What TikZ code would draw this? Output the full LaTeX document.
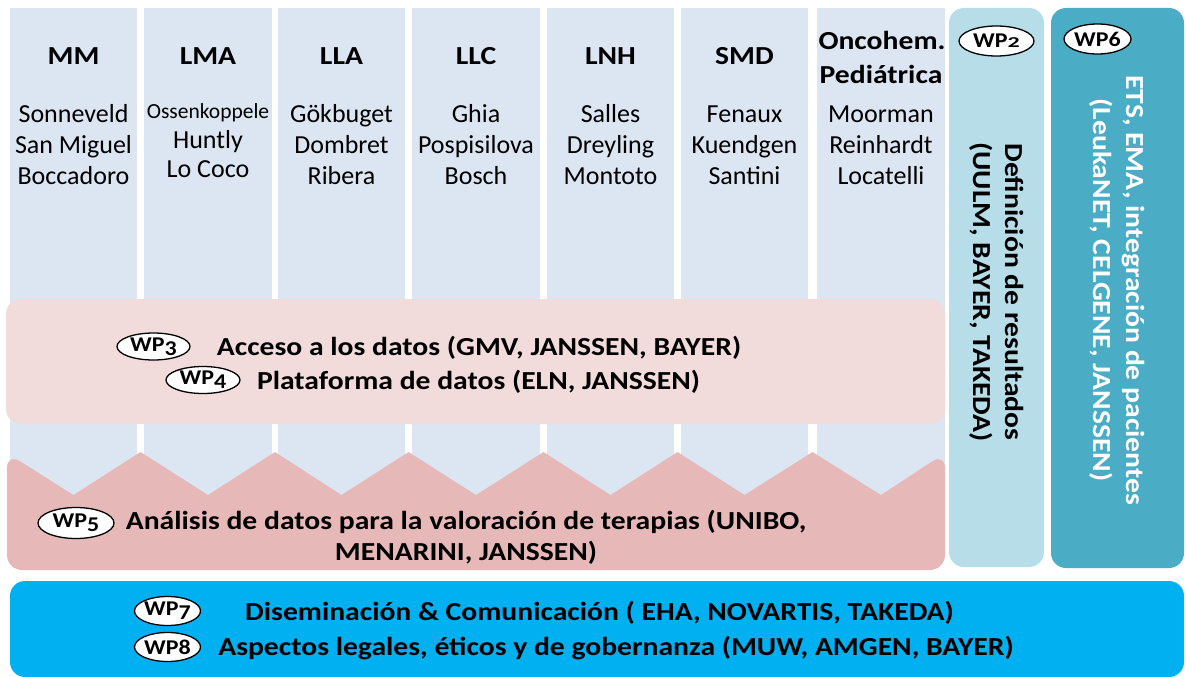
\documentclass[tikz,border=0pt]{standalone}
\usepackage{fontspec}
\usepackage{graphicx}
\setmainfont{Carlito}[BoldFeatures={FakeStretch=1.14}]
\newcommand{\osd}[1]{\raisebox{-0.2em}{#1}}
\newcommand{\ostwo}{\scalebox{1}[0.72]{2}}
\definecolor{colblue}{HTML}{DCE6F2}
\definecolor{pinklight}{HTML}{F2DCDB}
\definecolor{pinkdark}{HTML}{E6B9B8}
\definecolor{wptwo}{HTML}{B7DEE8}
\definecolor{wpsix}{HTML}{4BACC6}
\definecolor{bottomblue}{HTML}{00B0F0}
\usetikzlibrary{shapes.geometric}
\tikzset{
  wpell/.style={ellipse, draw=black, line width=1.3pt, fill=white, inner sep=0pt,
     font=\bfseries\fontsize{21}{21}\selectfont},
  hdtxt/.style={font=\bfseries\fontsize{26}{26}\selectfont, anchor=base},
  nmtxt/.style={font=\fontsize{26}{26}\selectfont, anchor=base},
  btxt/.style={font=\bfseries\fontsize{26}{26}\selectfont, anchor=base},
}
\begin{document}
\begin{tikzpicture}[x=1pt,y=-1pt]
\useasboundingbox (0,0) rectangle (1186,677);
% columns
\foreach \l/\r in {10/137,144/272,278/405,412/540,547/674,681/808,817/945}{
  \fill[colblue] (\l,8) rectangle (\r,510);
}
% headers
\node[hdtxt] (hMM) at (73.5,65) {MM};
\node[hdtxt] (hLMA) at (208,65) {LMA};
\node[hdtxt] (hLLA) at (341.5,65) {LLA};
\node[hdtxt] (hLLC) at (476,65) {LLC};
\node[hdtxt] (hLNH) at (610.5,65) {LNH};
\node[hdtxt] (hSMD) at (744.5,65) {SMD};
\node[hdtxt] (hOnc1) at (882,50) {Oncohem.};
\node[hdtxt] (hOnc2) at (881,83) {Pediátrica};
% names
\node[nmtxt] (n11) at (73.5,122) {Sonneveld};
\node[nmtxt] (n12) at (73.5,153) {San Miguel};
\node[nmtxt] (n13) at (73.5,184) {Boccadoro};
\node[nmtxt, font=\fontsize{21.5}{21.5}\selectfont] (n21) at (208,118) {Ossenkoppele};
\node[nmtxt] (n22) at (208,148) {Huntly};
\node[nmtxt] (n23) at (208,177) {Lo Coco};
\node[nmtxt] (n31) at (341.5,122) {Gökbuget};
\node[nmtxt] (n32) at (341.5,153) {Dombret};
\node[nmtxt] (n33) at (341.5,184) {Ribera};
\node[nmtxt] (n41) at (476,122) {Ghia};
\node[nmtxt] (n42) at (476,153) {Pospisilova};
\node[nmtxt] (n43) at (476,184) {Bosch};
\node[nmtxt] (n51) at (610.5,122) {Salles};
\node[nmtxt] (n52) at (610.5,153) {Dreyling};
\node[nmtxt] (n53) at (610.5,184) {Montoto};
\node[nmtxt] (n61) at (744.5,122) {Fenaux};
\node[nmtxt] (n62) at (744.5,153) {Kuendgen};
\node[nmtxt] (n63) at (744.5,184) {Santini};
\node[nmtxt] (n71) at (881,122) {Moorman};
\node[nmtxt] (n72) at (881,153) {Reinhardt};
\node[nmtxt] (n73) at (881,184) {Locatelli};
% WP3/WP4 box
\fill[pinklight, rounded corners=15pt] (6,299) rectangle (945,424);
\node[wpell, minimum width=73pt, minimum height=27pt] (wp3) at (153.5,346.5) {WP\osd{3}};
\node[btxt] (t3) at (479,355) {Acceso a los datos (GMV, JANSSEN, BAYER)};
\node[wpell, minimum width=74pt, minimum height=27pt] (wp4) at (203,380) {WP\osd{4}};
\node[btxt] (t4) at (478.5,389) {Plataforma de datos (ELN, JANSSEN)};
% WP5 shape
\fill[pinkdark] (7,520) [rounded corners=15pt] -- (7,453) [sharp corners] -- (73.5,495) -- (140.5,452) -- (208,495) -- (275,452) -- (341.5,495) -- (408.5,452) -- (476,495) -- (543.5,452) -- (610.5,495) -- (677.5,452) -- (744.5,495) -- (812.5,452) -- (881,495) [rounded corners=15pt] -- (945,453) -- (945,570) -- (7,570) -- cycle;
\node[wpell, minimum width=76pt, minimum height=31pt] (wp5) at (76,523) {WP\osd{5}};
\node[btxt] (t5a) at (466,529) {Análisis de datos para la valoración de terapias (UNIBO,};
\node[btxt] (t5b) at (466,560) {MENARINI, JANSSEN)};
% WP2 box
\fill[wptwo, rounded corners=15pt] (949,8) rectangle (1044,567);
\node[wpell, minimum width=75pt, minimum height=30pt] (wp2) at (996.5,41) {WP\ostwo};
\node[rotate=-90, align=center, font=\bfseries\fontsize{26}{32}\selectfont] (t2) at (996.5,292) {Definición de resultados\\(UULM, BAYER, TAKEDA)};
% WP6 box
\fill[wpsix, rounded corners=15pt] (1051,8) rectangle (1184,568);
\node[wpell, minimum width=67pt, minimum height=30pt] (wp6) at (1097.5,39) {WP6};
\node[rotate=-90, align=center, text=white, font=\bfseries\fontsize{26}{33}\selectfont] (t6) at (1117,290) {ETS, EMA, integración de pacientes\\(LeukaNET, CELGENE, JANSSEN)};
% bottom box
\fill[bottomblue, rounded corners=15pt] (10,581) rectangle (1184,677);
\node[wpell, minimum width=66pt, minimum height=29pt] (wp7) at (167.5,611) {WP\osd{7}};
\node[wpell, minimum width=66pt, minimum height=29pt] (wp8) at (167.5,647) {WP8};
\node[btxt] (t7) at (599.5,620) {Diseminación \& Comunicación ( EHA, NOVARTIS, TAKEDA)};
\node[btxt] (t8) at (616,655) {Aspectos legales, éticos y de gobernanza (MUW, AMGEN, BAYER)};
\end{tikzpicture}
\end{document}
